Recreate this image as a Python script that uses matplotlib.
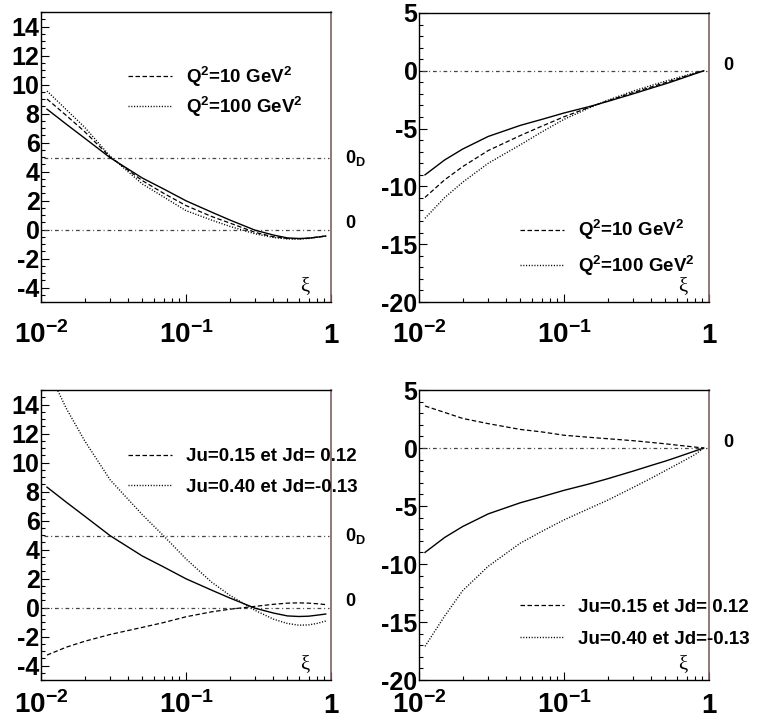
import matplotlib
matplotlib.use("Agg")
import matplotlib.pyplot as plt
from matplotlib.ticker import MultipleLocator, LogLocator, NullFormatter
from matplotlib.transforms import blended_transform_factory

plt.rcParams["font.family"] = ["Liberation Sans", "DejaVu Sans"]
plt.rcParams["font.weight"] = "bold"
plt.rcParams["mathtext.fontset"] = "custom"
plt.rcParams["mathtext.rm"] = "Liberation Sans:bold"
plt.rcParams["mathtext.it"] = "Liberation Sans:bold"
plt.rcParams["mathtext.bf"] = "Liberation Sans:bold"
plt.rcParams["axes.unicode_minus"] = False

# ── données ────────────────────────────────────────────────
XI = [0.011, 0.015, 0.02, 0.03, 0.05, 0.07, 0.1, 0.15, 0.2, 0.3,
      0.4, 0.5, 0.6, 0.7, 0.8, 0.92]

# panneaux de gauche (0_D = 4.9)
REF_L = [8.3, 7.25, 6.3, 4.95, 3.55, 2.8, 1.98, 1.2, 0.66, -0.05,
         -0.38, -0.58, -0.62, -0.6, -0.53, -0.45]
Q10_L = [9.0, 7.85, 6.75, 5.0, 3.37, 2.5, 1.65, 0.9, 0.45, -0.2,
         -0.5, -0.62, -0.64, -0.6, -0.53, -0.45]
Q100_L = [9.55, 8.25, 7.05, 5.05, 3.14, 2.25, 1.3, 0.65, 0.22, -0.3,
          -0.55, -0.65, -0.66, -0.62, -0.53, -0.45]
J015_L = [-3.28, -2.73, -2.33, -1.86, -1.37, -1.04, -0.64, -0.3, -0.12, 0.08,
          0.22, 0.3, 0.32, 0.3, 0.26, 0.2]
J040_L = [16.5, 13.7, 11.5, 8.8, 6.4, 4.95, 3.35, 1.75, 0.85, -0.2,
          -0.8, -1.1, -1.22, -1.2, -1.1, -0.93]

# panneaux de droite
REF_R = [-9.0, -7.72, -6.77, -5.68, -4.72, -4.21, -3.65, -3.09, -2.65, -1.99,
         -1.5, -1.13, -0.8, -0.51, -0.26, 0.0]
Q10_R = [-10.95, -9.44, -8.29, -6.9, -5.6, -4.8, -3.98, -3.15, -2.6, -1.88,
         -1.4, -1.02, -0.72, -0.45, -0.22, 0.0]
Q100_R = [-12.76, -10.98, -9.64, -8.0, -6.4, -5.3, -4.2, -3.2, -2.55, -1.75,
          -1.27, -0.9, -0.62, -0.38, -0.18, 0.0]
J015_R = [3.62, 3.07, 2.55, 2.1, 1.6, 1.39, 1.1, 0.92, 0.8, 0.63,
          0.48, 0.36, 0.25, 0.16, 0.08, 0.0]
J040_R = [-17.1, -14.5, -12.3, -10.2, -8.2, -7.2, -6.2, -5.2, -4.5, -3.4,
          -2.6, -1.95, -1.42, -0.97, -0.57, 0.0]

XTICKS = [0.01, 0.1, 1]
XTICKLABELS = [r"$10^{-2}$", r"$10^{-1}$", "1"]
YTICKS_L = [-4, -2, 0, 2, 4, 6, 8, 10, 12, 14]
YTICKS_R = [-20, -15, -10, -5, 0, 5]

LAB_Q = [r"Q$^{2}$=10 GeV$^{2}$", r"Q$^{2}$=100 GeV$^{2}$"]
LAB_J = ["Ju=0.15 et Jd= 0.12", "Ju=0.40 et Jd=-0.13"]

HLINES_L = [(0.0, "0"), (4.9, r"0$_{D}$")]
HLINES_R = [(0.0, "0")]

DASH = (3.6, 2.0)
DOT = (0.8, 1.2)
DASHDOT = (3.0, 2.3, 0.8, 2.3)

W, H = 765, 722


def make_axes(fig, x0, y1, y0):
    # positions en pixels -> fraction de figure
    return fig.add_axes([x0 / W, (H - y0) / H, 290 / W, (y0 - y1) / H])


def draw_panel(ax, ylim, yticks, yminor, ref, dash, dot,
               hlines, labels, leg_xy, leg_space, xpad):
    ax.set_xscale("log")
    ax.set_xlim(0.01, 1)
    ax.set_ylim(*ylim)

    for y, txt in hlines:
        ax.hlines(y, 0.0105, 0.965, color="#444444", lw=0.9,
                  linestyles=[(0, DASHDOT)])
        ax.annotate(txt, xy=(1.05, y),
                    xycoords=blended_transform_factory(ax.transAxes, ax.transData),
                    xytext=(0, 4 if txt == "0" else 0), textcoords="offset points",
                    ha="left", va="center", fontsize=13, annotation_clip=False)

    ax.plot(XI, ref, color="black", lw=1.0)
    l1, = ax.plot(XI, dash, color="black", lw=0.9, dashes=DASH)
    l2, = ax.plot(XI, dot, color="black", lw=1.0, dashes=DOT)

    ax.legend([l1, l2], labels, loc="upper left", bbox_to_anchor=leg_xy,
              frameon=False, fontsize=13.5, handlelength=2.35,
              handletextpad=0.75, borderpad=0, borderaxespad=0,
              labelspacing=leg_space)

    ax.text(0.91, 0.052, "ξ", transform=ax.transAxes, ha="center",
            va="center", fontsize=15, fontweight="normal",
            family=["Liberation Serif", "DejaVu Serif"])

    ax.set_xticks(XTICKS, labels=XTICKLABELS)
    ax.xaxis.set_minor_locator(LogLocator(base=10, subs=range(2, 10)))
    ax.xaxis.set_minor_formatter(NullFormatter())
    ax.set_yticks(yticks, labels=[str(v) for v in yticks])
    ax.yaxis.set_minor_locator(MultipleLocator(yminor))

    ax.tick_params(which="both", direction="in", top=False, right=False,
                   width=0.8, color="black")
    ax.tick_params(which="major", length=6)
    ax.tick_params(which="minor", length=3)
    ax.tick_params(axis="y", labelsize=18, pad=1)
    ax.tick_params(axis="x", labelsize=20, pad=xpad)
    for lab in ax.get_xticklabels():
        lab.set_va("baseline")

    for side in ["left", "bottom", "top"]:
        ax.spines[side].set_linewidth(1.0)
    ax.spines["right"].set_color("#806060")
    ax.spines["right"].set_linewidth(1.2)


fig = plt.figure(figsize=(W / 100, H / 100), dpi=100)

ax1 = make_axes(fig, 41, 12, 302)
draw_panel(ax1, (-5, 15), YTICKS_L, 0.5, REF_L, Q10_L, Q100_L,
           HLINES_L, LAB_Q, (0.30, 0.818), 0.3, 29.5)

ax2 = make_axes(fig, 419, 13, 302)
draw_panel(ax2, (-20, 5), YTICKS_R, 1, REF_R, Q10_R, Q100_R,
           HLINES_R, LAB_Q, (0.348, 0.29), 0.6, 29.5)

ax3 = make_axes(fig, 41, 390, 680)
draw_panel(ax3, (-5, 15), YTICKS_L, 0.5, REF_L, J015_L, J040_L,
           HLINES_L, LAB_J, (0.30, 0.80), 0.72, 23.8)

ax4 = make_axes(fig, 419, 390, 680)
draw_panel(ax4, (-20, 5), YTICKS_R, 1, REF_R, J015_R, J040_R,
           HLINES_R, LAB_J, (0.348, 0.28), 0.8, 23.8)

fig.savefig("out.png", dpi=100)
plt.close(fig)
